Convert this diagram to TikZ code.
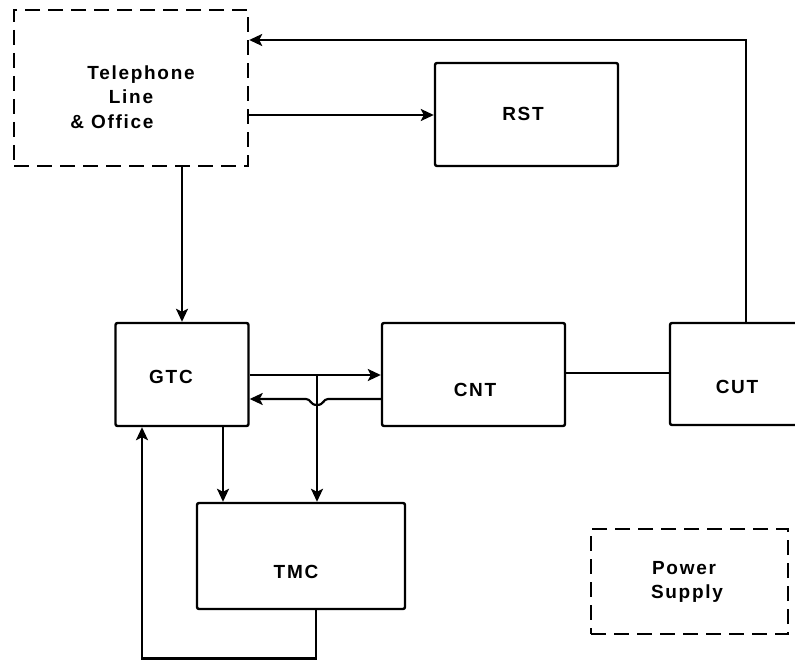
\documentclass[tikz,border=0pt]{standalone}
\usepackage{fontspec}
\setmainfont[LetterSpace=9]{Liberation Sans}
\usetikzlibrary{arrows.meta}
\tikzset{
  box/.style={draw, line width=2.4pt, rounded corners=2pt, inner sep=0pt},
  dbox/.style={draw, line width=2.4pt, dash pattern=on 15pt off 8pt, inner sep=0pt},
  lbl/.style={font=\fontsize{19}{24.5}\selectfont\bfseries, inner sep=0pt, align=center},
  conn/.style={line width=2.2pt},
  arr/.style={conn, -{Stealth[length=13pt,width=12pt,inset=3pt]}}
}
\begin{document}
\begin{tikzpicture}[x=1pt,y=-1pt]
\useasboundingbox (0,0) rectangle (795,660);
\clip (0,0) rectangle (795,660);
% boxes
\node[dbox, minimum width=234pt, minimum height=156pt] (Tel) at (131,88) {};
\node[box, minimum width=183pt, minimum height=103pt] (RST) at (526.5,114.5) {};
\node[box, minimum width=133pt, minimum height=103pt] (GTC) at (182,374.5) {};
\node[box, minimum width=183pt, minimum height=103pt] (CNT) at (473.5,374.5) {};
\node[box, minimum width=140pt, minimum height=102pt] (CUT) at (740,374) {};
\node[box, minimum width=208pt, minimum height=106pt] (TMC) at (301,556) {};
\node[dbox, minimum width=197pt, minimum height=105pt] (PS) at (689.5,581.5) {};
% labels
\node[lbl] (telT) at (131,97) {\hspace*{20pt}Telephone\\Line\\\& Office\hspace*{38pt}};
\node[lbl] (rstT) at (523,114) {RST};
\node[lbl] (gtcT) at (171,377) {GTC};
\node[lbl] (cntT) at (475,390) {CNT};
\node[lbl] (cutT) at (737,387) {CUT};
\node[lbl] (tmcT) at (296,572) {TMC};
\node[lbl] (psT) at (684,582) {Power\\\hspace*{6pt}Supply};
% connectors
\draw[arr] (CUT.north -| 746,0) |- (Tel.east |- 0,40);
\draw[arr] (Tel.east |- 0,115) -- (RST.west |- 0,115);
\draw[arr] (Tel.south -| 182,0) -- (GTC.north -| 182,0);
\draw[arr] (GTC.east |- 0,375) -- (CNT.west |- 0,375);
\coordinate (br) at (317,375);
\draw[arr] (br) -- (TMC.north -| 317,0);
\draw[arr] (CNT.west |- 0,399) -- (328,399) .. controls (323,399) and (324,405) .. (317,405) .. controls (310,405) and (311,399) .. (306,399) -- (GTC.east |- 0,399);
\draw[arr] (GTC.south -| 223,0) -- (TMC.north -| 223,0);
\coordinate (fb) at (316,658.5);
\draw[arr] (TMC.south -| 316,0) -- (fb) -| (GTC.south -| 142,0);
\draw[conn] (CNT.east |- 0,373) -- (CUT.west |- 0,373);
\end{tikzpicture}
\end{document}
